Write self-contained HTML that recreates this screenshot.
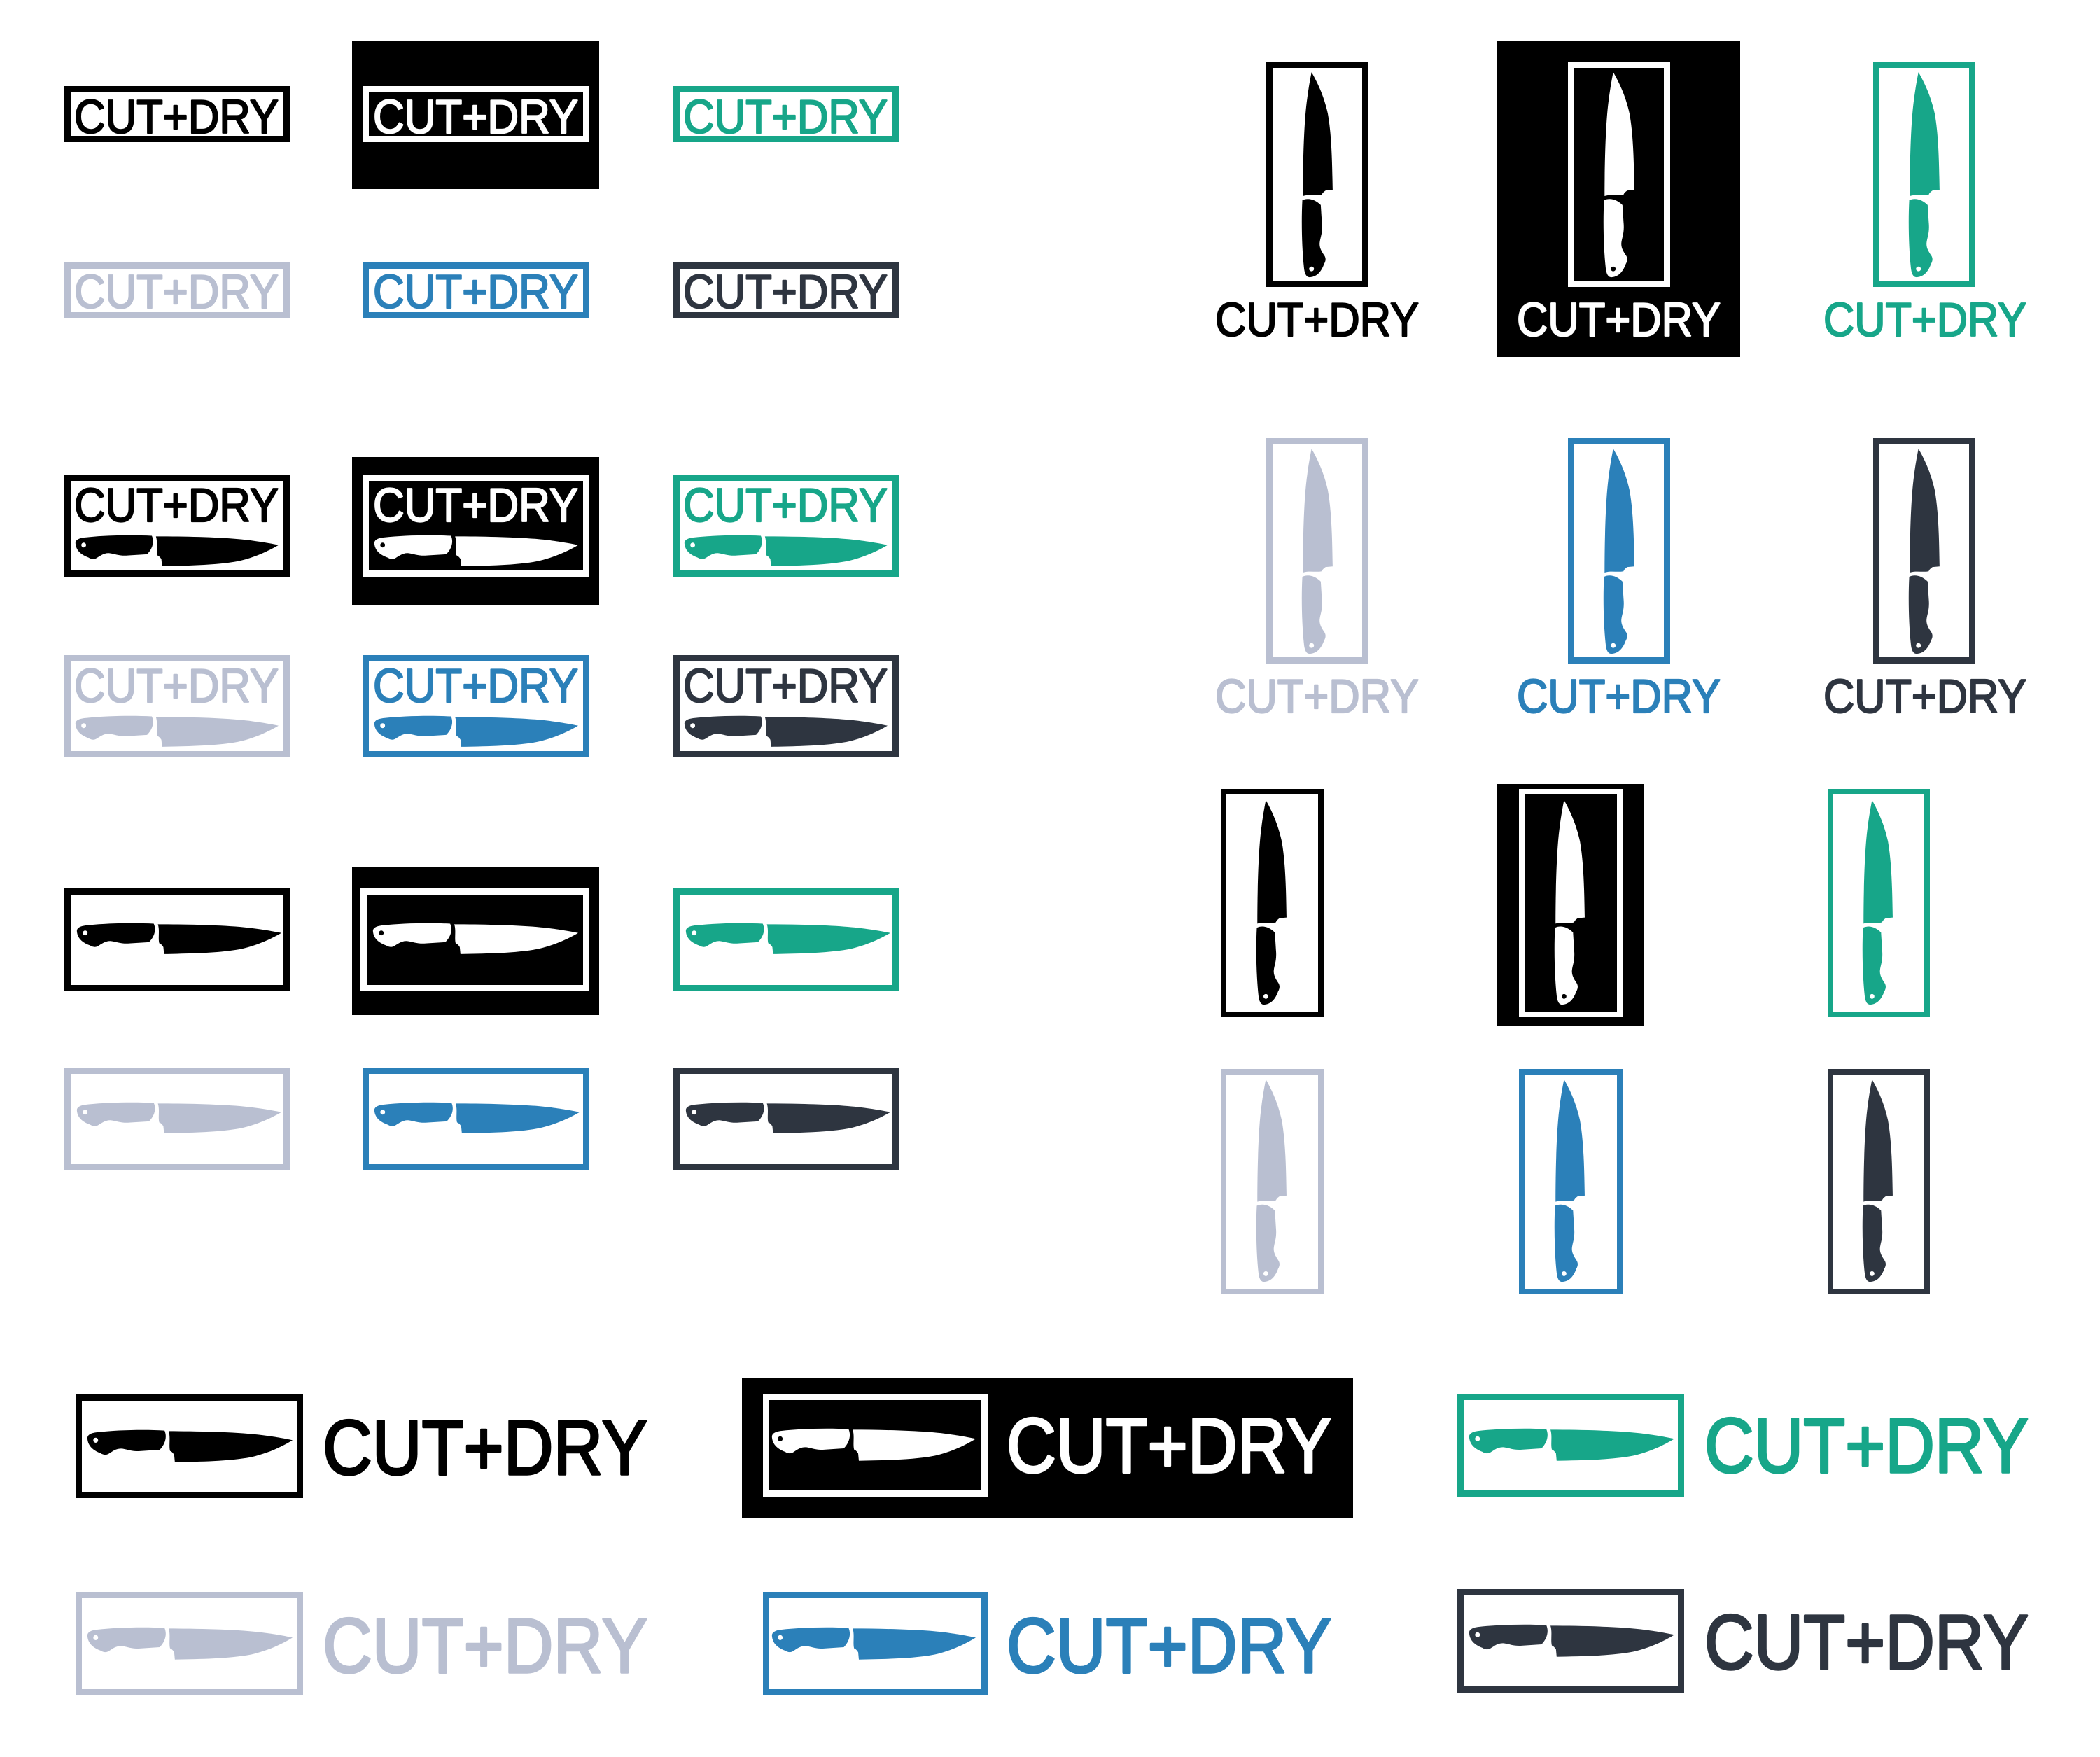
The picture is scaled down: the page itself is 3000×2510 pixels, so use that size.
<!DOCTYPE html>
<html><head><meta charset="utf-8"><style>
html,body{margin:0;padding:0;background:#fff;}
svg{display:block;}
text{font-family:"Liberation Sans",sans-serif;font-weight:normal;stroke-width:2.2;stroke-linejoin:round;}
text[font-size="110"]{stroke-width:3.4;}
text[fill="#000"]{stroke:#000;}
text[fill="#fff"]{stroke:#fff;}
text[fill="#17a689"]{stroke:#17a689;}
text[fill="#b9bfd1"]{stroke:#b9bfd1;}
text[fill="#2b80b9"]{stroke:#2b80b9;}
text[fill="#2e3540"]{stroke:#2e3540;}
</style></head><body>
<svg xmlns="http://www.w3.org/2000/svg" xmlns:xlink="http://www.w3.org/1999/xlink" width="3000" height="2510" viewBox="0 0 3000 2510">
<defs>
<symbol id="kh" viewBox="0 0 300 62" preserveAspectRatio="none">
<path fill-rule="evenodd" d="M2,17 C1,9 8,6 16,5 C45,1 85,0 114,2 C118,13 115,26 107,36 L82,38 C66,40 60,35 52,34 C44,33 38,39 33,43 C29,46 25,45 21,42 C10,37 3,29 2,17 Z M10.5,19 a3.5,4.5 0 1,0 7,0 a3.5,4.5 0 1,0 -7,0 Z M120,3 C170,3 230,5 262,11 C280,14 292,17 300,19 C285,30 265,42 240,49 C205,57 160,57 129,58 L128,45 C126,41 124,39 122,38 C120,28 123,14 120,3 Z"/>
</symbol>
</defs>
<rect width="3000" height="2510" fill="#fff"/>

<rect x="503" y="59" width="353" height="211" fill="#000"/>
<rect x="503" y="653" width="353" height="211" fill="#000"/>
<rect x="503" y="1238" width="353" height="212" fill="#000"/>
<rect x="2138" y="59" width="348" height="451" fill="#000"/>
<rect x="2139" y="1120" width="210" height="346" fill="#000"/>
<rect x="1060" y="1969" width="873" height="199" fill="#000"/>

<g stroke-width="9" fill="none">
<rect x="96.5" y="127.5" width="313" height="71" stroke="#000"/>
<rect x="522.5" y="127.5" width="315" height="71" stroke="#fff"/>
<rect x="966.5" y="127.5" width="313" height="71" stroke="#17a689"/>
<rect x="96.5" y="379.5" width="313" height="71" stroke="#b9bfd1"/>
<rect x="522.5" y="379.5" width="315" height="71" stroke="#2b80b9"/>
<rect x="966.5" y="379.5" width="313" height="71" stroke="#2e3540"/>
</g>
<text x="106" y="190" font-size="68" textLength="292" lengthAdjust="spacingAndGlyphs" fill="#000">CUT+DRY</text>
<text x="533" y="190" font-size="68" textLength="293" lengthAdjust="spacingAndGlyphs" fill="#fff">CUT+DRY</text>
<text x="976" y="190" font-size="68" textLength="292" lengthAdjust="spacingAndGlyphs" fill="#17a689">CUT+DRY</text>
<text x="106" y="440" font-size="68" textLength="292" lengthAdjust="spacingAndGlyphs" fill="#b9bfd1">CUT+DRY</text>
<text x="533" y="440" font-size="68" textLength="293" lengthAdjust="spacingAndGlyphs" fill="#2b80b9">CUT+DRY</text>
<text x="976" y="440" font-size="68" textLength="292" lengthAdjust="spacingAndGlyphs" fill="#2e3540">CUT+DRY</text>

<g stroke-width="9" fill="none">
<rect x="96.5" y="682.5" width="313" height="137" stroke="#000"/>
<rect x="522.5" y="682.5" width="315" height="137" stroke="#fff"/>
<rect x="966.5" y="682.5" width="313" height="137" stroke="#17a689"/>
<rect x="96.5" y="940.5" width="313" height="137" stroke="#b9bfd1"/>
<rect x="522.5" y="940.5" width="315" height="137" stroke="#2b80b9"/>
<rect x="966.5" y="940.5" width="313" height="137" stroke="#2e3540"/>
</g>
<text x="106" y="745" font-size="68" textLength="292" lengthAdjust="spacingAndGlyphs" fill="#000">CUT+DRY</text>
<text x="533" y="745" font-size="68" textLength="293" lengthAdjust="spacingAndGlyphs" fill="#fff">CUT+DRY</text>
<text x="976" y="745" font-size="68" textLength="292" lengthAdjust="spacingAndGlyphs" fill="#17a689">CUT+DRY</text>
<text x="106" y="1003" font-size="68" textLength="292" lengthAdjust="spacingAndGlyphs" fill="#b9bfd1">CUT+DRY</text>
<text x="533" y="1003" font-size="68" textLength="293" lengthAdjust="spacingAndGlyphs" fill="#2b80b9">CUT+DRY</text>
<text x="976" y="1003" font-size="68" textLength="292" lengthAdjust="spacingAndGlyphs" fill="#2e3540">CUT+DRY</text>
<use xlink:href="#kh" x="106" y="764" width="292" height="48" fill="#000"/>
<use xlink:href="#kh" x="533" y="764" width="293" height="48" fill="#fff"/>
<use xlink:href="#kh" x="976" y="764" width="292" height="48" fill="#17a689"/>
<use xlink:href="#kh" x="106" y="1022" width="292" height="48" fill="#b9bfd1"/>
<use xlink:href="#kh" x="533" y="1022" width="293" height="48" fill="#2b80b9"/>
<use xlink:href="#kh" x="976" y="1022" width="292" height="48" fill="#2e3540"/>

<g stroke-width="9" fill="none">
<rect x="96.5" y="1273.5" width="313" height="138" stroke="#000"/>
<rect x="519.5" y="1273.5" width="318" height="138" stroke="#fff"/>
<rect x="966.5" y="1273.5" width="313" height="138" stroke="#17a689"/>
<rect x="96.5" y="1529.5" width="313" height="138" stroke="#b9bfd1"/>
<rect x="522.5" y="1529.5" width="315" height="138" stroke="#2b80b9"/>
<rect x="966.5" y="1529.5" width="313" height="138" stroke="#2e3540"/>
</g>
<use xlink:href="#kh" x="108" y="1318" width="294" height="48" fill="#000"/>
<use xlink:href="#kh" x="531" y="1318" width="295" height="48" fill="#fff"/>
<use xlink:href="#kh" x="978" y="1318" width="294" height="48" fill="#17a689"/>
<use xlink:href="#kh" x="108" y="1574" width="294" height="48" fill="#b9bfd1"/>
<use xlink:href="#kh" x="533" y="1574" width="295" height="48" fill="#2b80b9"/>
<use xlink:href="#kh" x="978" y="1574" width="294" height="48" fill="#2e3540"/>

<g stroke-width="9" fill="none">
<rect x="1813.5" y="92.5" width="137" height="313" stroke="#000"/>
<rect x="2244.5" y="92.5" width="137" height="313" stroke="#fff"/>
<rect x="2680.5" y="92.5" width="137" height="313" stroke="#17a689"/>
<rect x="1813.5" y="630.5" width="137" height="313" stroke="#b9bfd1"/>
<rect x="2244.5" y="630.5" width="137" height="313" stroke="#2b80b9"/>
<rect x="2680.5" y="630.5" width="137" height="313" stroke="#2e3540"/>
</g>
<g transform="translate(1859,398) rotate(-90) scale(0.983,0.774)"><use xlink:href="#kh" width="300" height="62" fill="#000"/></g>
<g transform="translate(2290,398) rotate(-90) scale(0.983,0.774)"><use xlink:href="#kh" width="300" height="62" fill="#fff"/></g>
<g transform="translate(2726,398) rotate(-90) scale(0.983,0.774)"><use xlink:href="#kh" width="300" height="62" fill="#17a689"/></g>
<g transform="translate(1859,936) rotate(-90) scale(0.983,0.774)"><use xlink:href="#kh" width="300" height="62" fill="#b9bfd1"/></g>
<g transform="translate(2290,936) rotate(-90) scale(0.983,0.774)"><use xlink:href="#kh" width="300" height="62" fill="#2b80b9"/></g>
<g transform="translate(2726,936) rotate(-90) scale(0.983,0.774)"><use xlink:href="#kh" width="300" height="62" fill="#2e3540"/></g>
<text x="1736" y="480" font-size="68" textLength="291" lengthAdjust="spacingAndGlyphs" fill="#000">CUT+DRY</text>
<text x="2167" y="480" font-size="68" textLength="291" lengthAdjust="spacingAndGlyphs" fill="#fff">CUT+DRY</text>
<text x="2605" y="480" font-size="68" textLength="290" lengthAdjust="spacingAndGlyphs" fill="#17a689">CUT+DRY</text>
<text x="1736" y="1018" font-size="68" textLength="291" lengthAdjust="spacingAndGlyphs" fill="#b9bfd1">CUT+DRY</text>
<text x="2167" y="1018" font-size="68" textLength="291" lengthAdjust="spacingAndGlyphs" fill="#2b80b9">CUT+DRY</text>
<text x="2605" y="1018" font-size="68" textLength="290" lengthAdjust="spacingAndGlyphs" fill="#2e3540">CUT+DRY</text>

<g stroke-width="8" fill="none">
<rect x="1748" y="1131" width="139" height="318" stroke="#000"/>
<rect x="2174" y="1131" width="140" height="318" stroke="#fff"/>
<rect x="2615" y="1131" width="138" height="318" stroke="#17a689"/>
<rect x="1748" y="1531" width="139" height="314" stroke="#b9bfd1"/>
<rect x="2174" y="1531" width="140" height="314" stroke="#2b80b9"/>
<rect x="2615" y="1531" width="138" height="314" stroke="#2e3540"/>
</g>
<g transform="translate(1794,1437) rotate(-90) scale(0.98,0.758)"><use xlink:href="#kh" width="300" height="62" fill="#000"/></g>
<g transform="translate(2220,1437) rotate(-90) scale(0.98,0.758)"><use xlink:href="#kh" width="300" height="62" fill="#fff"/></g>
<g transform="translate(2660,1437) rotate(-90) scale(0.98,0.758)"><use xlink:href="#kh" width="300" height="62" fill="#17a689"/></g>
<g transform="translate(1794,1833) rotate(-90) scale(0.97,0.758)"><use xlink:href="#kh" width="300" height="62" fill="#b9bfd1"/></g>
<g transform="translate(2220,1833) rotate(-90) scale(0.97,0.758)"><use xlink:href="#kh" width="300" height="62" fill="#2b80b9"/></g>
<g transform="translate(2660,1833) rotate(-90) scale(0.97,0.758)"><use xlink:href="#kh" width="300" height="62" fill="#2e3540"/></g>

<g stroke-width="9" fill="none">
<rect x="112.5" y="1996.5" width="316" height="139" stroke="#000"/>
<rect x="1094.5" y="1995.5" width="312" height="138" stroke="#fff"/>
<rect x="2086.5" y="1995.5" width="315" height="138" stroke="#17a689"/>
<rect x="112.5" y="2278.5" width="316" height="139" stroke="#b9bfd1"/>
<rect x="1094.5" y="2278.5" width="312" height="139" stroke="#2b80b9"/>
<rect x="2086.5" y="2274.5" width="315" height="139" stroke="#2e3540"/>
</g>
<use xlink:href="#kh" x="123" y="2042" width="295" height="50" fill="#000"/>
<use xlink:href="#kh" x="1101" y="2040" width="293" height="50" fill="#fff"/>
<use xlink:href="#kh" x="2097" y="2040" width="295" height="50" fill="#17a689"/>
<use xlink:href="#kh" x="123" y="2324" width="295" height="50" fill="#b9bfd1"/>
<use xlink:href="#kh" x="1101" y="2324" width="293" height="50" fill="#2b80b9"/>
<use xlink:href="#kh" x="2097" y="2320" width="295" height="50" fill="#2e3540"/>
<text x="461" y="2106" font-size="110" textLength="464" lengthAdjust="spacingAndGlyphs" fill="#000">CUT+DRY</text>
<text x="1438" y="2103" font-size="110" textLength="464" lengthAdjust="spacingAndGlyphs" fill="#fff">CUT+DRY</text>
<text x="2435" y="2103" font-size="110" textLength="463" lengthAdjust="spacingAndGlyphs" fill="#17a689">CUT+DRY</text>
<text x="461" y="2389" font-size="110" textLength="464" lengthAdjust="spacingAndGlyphs" fill="#b9bfd1">CUT+DRY</text>
<text x="1438" y="2389" font-size="110" textLength="464" lengthAdjust="spacingAndGlyphs" fill="#2b80b9">CUT+DRY</text>
<text x="2435" y="2384" font-size="110" textLength="463" lengthAdjust="spacingAndGlyphs" fill="#2e3540">CUT+DRY</text>
</svg>
</body></html>
